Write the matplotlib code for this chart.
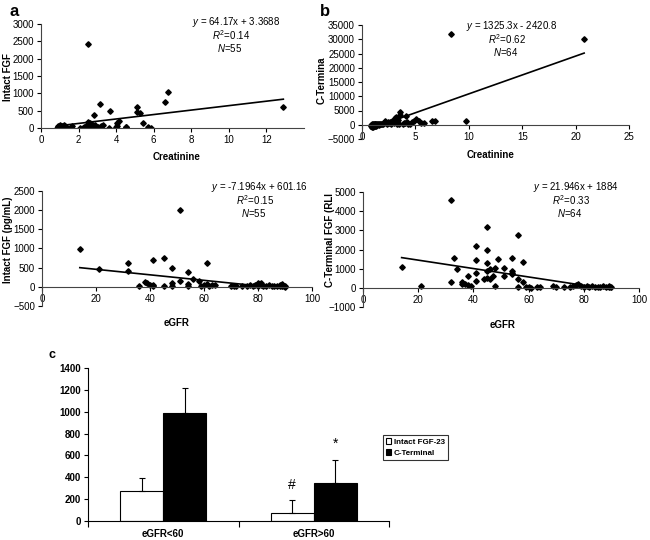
import matplotlib
matplotlib.use("Agg")
import matplotlib.pyplot as plt
import numpy as np

plt.rcParams['font.family'] = ['Liberation Sans', 'DejaVu Sans']
plt.rcParams['mathtext.fontset'] = 'custom'
plt.rcParams['mathtext.rm'] = 'Liberation Sans'
plt.rcParams['mathtext.it'] = 'Liberation Sans:italic'

# panel a: creatinine vs intact FGF
a_x = [2.5, 6.75, 6.6, 12.9, 3.15, 5.1, 5.1, 5.25, 3.65, 2.8, 2.5, 4.15, 4.05, 5.45, 2.6,
       2.75, 2.9, 3.2, 3.3, 3.6, 4.05, 4.5, 4.55, 5.7, 5.85, 1.65, 1.6, 2.1, 2.3, 2.4,
       2.25, 2.55, 3.05, 4.0, 0.85, 0.9, 0.95, 1.0, 1.0, 1.05, 1.1, 1.1, 1.15, 1.2, 1.2,
       1.25, 1.25, 1.3, 1.3, 1.35, 0.9, 1.0, 1.15, 1.05, 1.4]
a_y = [2430, 1040, 750, 600, 680, 610, 470, 420, 490, 370, 175, 190, 130, 130, 130,
       100, 80, 50, 80, 10, 50, 30, 20, 30, 10, 70, 40, 10, 30, 60,
       10, 20, 20, 20, 0, 20, 10, 40, 0, 20, 50, 10, 0, 70, 30,
       100, 10, 60, 20, 40, 50, 80, 30, 60, 10]
a_fit = (64.17, 3.3688)

# panel b: creatinine vs C-terminal FGF
b_x = [8.3, 20.8, 9.7, 3.6, 3.55, 4.1, 3.2, 3.1, 6.6, 6.8, 5.1, 5.3, 5.8, 2.2, 2.4,
       2.6, 2.9, 2.5, 2.3, 2.0, 3.5, 4.0, 4.3, 4.7, 4.9, 3.0, 2.7, 3.3, 3.9, 4.5,
       5.5, 0.8, 0.85, 0.9, 0.95, 1.0, 1.0, 1.05, 1.1, 1.1, 1.15, 1.2, 1.2, 1.25, 1.3,
       1.3, 1.35, 1.4, 1.45, 1.5, 1.6, 1.7, 1.8, 1.9, 2.1, 1.0, 0.9, 1.15, 1.25, 3.8,
       4.2, 2.8, 3.4, 1.55]
b_y = [31800, 30000, 1200, 4500, 3400, 3000, 2600, 2200, 1350, 1350, 1900, 1200, 500, 1200, 900,
       1000, 1000, 700, 400, 300, 200, 500, 300, 800, 1300, 600, 300, 100, 700, 150,
       600, -500, -200, 100, -700, -300, 200, -100, -400, 0, 100, -200, 300, -600, 0,
       200, -300, 100, -100, 300, 200, 100, 300, 200, 500, -800, -100, -500, 250, 400,
       900, 1200, 1500, -200]
b_fit = (1325.3, -2420.8)

# panel c: eGFR vs intact FGF
c_x = [14, 21, 32, 32, 41, 45, 48, 61, 54, 51, 51, 56, 58, 48, 54,
       36, 38, 39, 40, 41, 41, 45, 48, 54, 59, 60, 61, 62, 63, 64,
       70, 71, 72, 74, 76, 77, 78, 79, 80, 80, 81, 81, 82, 84, 86,
       87, 88, 88, 89, 89, 89, 90, 90, 85, 83]
c_y = [990, 470, 620, 420, 700, 760, 480, 620, 375, 2000, 150, 200, 140, 90, 80,
       20, 120, 90, 40, 60, 20, 30, 30, 20, 30, 60, 80, 20, 50, 40,
       20, 30, 10, 30, 20, 40, 10, 40, 90, 20, 100, 50, 30, 40, 10,
       20, 30, 60, 10, 80, 40, 20, 0, 10, 10]
c_fit = (-7.1964, 601.16)

# panel d: eGFR vs C-terminal FGF
d_x = [14, 21, 32, 45, 56, 41, 45, 33, 41, 49, 54, 58, 45, 51, 48,
       34, 54, 54, 54, 41, 45, 46, 51, 56, 58, 38, 45, 44, 46, 47,
       32, 36, 37, 38, 39, 41, 48, 56, 59, 60, 63, 69, 70, 73, 75,
       76, 77, 78, 79, 80, 81, 82, 83, 84, 85, 86, 87, 88, 89, 89,
       90, 36, 64, 61]
d_y = [1100, 100, 4600, 3200, 2750, 2200, 1970, 1550, 1450, 1500, 1550, 1330, 1280, 1050, 1040,
       1000, 900, 780, 700, 800, 870, 990, 640, 450, 320, 620, 520, 440, 470, 610,
       330, 300, 200, 150, 100, 350, 100, 50, 60, 60, 60, 80, 30, 20, 50,
       100, 150, 200, 120, 60, 100, 30, 80, 40, 60, 20, 100, 30, 120, 20,
       30, 200, 40, 10]
# the printed equation drops the minus sign; the drawn line falls
d_fit = (-21.946, 1884)

# panel c: bar chart means
groups = ['eGFR<60', 'eGFR>60']
intact = [270, 70]
intact_err = [120, 120]
cterm = [985, 350]
cterm_err = [230, 205]

fig = plt.figure(figsize=(6.5, 5.4), dpi=100)
W, H = 650, 540


def px_ax(x0, y0, x1, y1):
    return fig.add_axes([x0 / W, 1 - y1 / H, (x1 - x0) / W, (y1 - y0) / H])


def ftext(x, y, s, **kw):
    fig.text(x / W, 1 - y / H, s, **kw)


def scatter_panel(ax, x, y, fit, xlim, ylim, xt, yt):
    ax.plot(x, y, 'D', color='black', ms=2.8, mec='black')
    xs = np.array([min(x), max(x)])
    ax.plot(xs, fit[0] * xs + fit[1], color='black', lw=1.2)
    ax.set_xlim(xlim)
    ax.set_ylim(ylim)
    ax.set_xticks(xt)
    ax.set_yticks(yt)
    ax.spines['top'].set_visible(False)
    ax.spines['right'].set_visible(False)
    ax.spines['bottom'].set_position(('data', 0))
    ax.spines['left'].set_color('#444444')
    ax.spines['bottom'].set_color('#444444')
    ax.tick_params(labelsize=7, length=3, width=0.8, pad=2)


ax1 = px_ax(41, 24, 304, 128)
scatter_panel(ax1, a_x, a_y, a_fit, (0, 14), (0, 3000), range(0, 13, 2), range(0, 3001, 500))
ax2 = px_ax(362, 25, 629, 139)
scatter_panel(ax2, b_x, b_y, b_fit, (0, 25), (-5000, 35000), range(0, 26, 5), range(-5000, 35001, 5000))
ax3 = px_ax(42, 191, 312, 306)
scatter_panel(ax3, c_x, c_y, c_fit, (0, 100), (-500, 2500), range(0, 101, 20), range(-500, 2501, 500))
ax4 = px_ax(363, 192, 639, 307)
scatter_panel(ax4, d_x, d_y, d_fit, (0, 100), (-1000, 5000), range(0, 101, 20), range(-1000, 5001, 1000))

# equations
eqs = [((236, 22), r'$y$ = 64.17x + 3.3688', r'$R^2$=0.14', r'$N$=55'),
       ((512, 26), r'$y$ = 1325.3x - 2420.8', r'$R^2$=0.62', r'$N$=64'),
       ((260, 187), r'$y$ = -7.1964x + 601.16', r'$R^2$=0.15', r'$N$=55'),
       ((576, 187), r'$y$ = 21.946x + 1884', r'$R^2$=0.33', r'$N$=64')]
for (x, y), e, r, n in eqs:
    ftext(x, y, e, ha='center', va='center', fontsize=7)
    ftext(x - 5, y + 13, r, ha='center', va='center', fontsize=7)
    ftext(x - 6, y + 26, n, ha='center', va='center', fontsize=7)

# axis titles
ftext(8, 77, 'Intact FGF', rotation=90, ha='center', va='center', fontsize=7, fontweight='bold')
ftext(322, 80, 'C-Termina', rotation=90, ha='center', va='center', fontsize=7, fontweight='bold')
ftext(8, 240, 'Intact FGF (pg/mL)', rotation=90, ha='center', va='center', fontsize=7, fontweight='bold')
ftext(330, 240, 'C-Terminal FGF (RLI', rotation=90, ha='center', va='center', fontsize=7, fontweight='bold')
ftext(177, 157, 'Creatinine', ha='center', va='center', fontsize=7, fontweight='bold')
ftext(491, 155, 'Creatinine', ha='center', va='center', fontsize=7, fontweight='bold')
ftext(177, 323, 'eGFR', ha='center', va='center', fontsize=7, fontweight='bold')
ftext(503, 325, 'eGFR', ha='center', va='center', fontsize=7, fontweight='bold')

# panel letters
ftext(14, 12, 'a', ha='center', va='center', fontsize=12, fontweight='bold')
ftext(325, 12, 'b', ha='center', va='center', fontsize=12, fontweight='bold')
ftext(52, 355, 'c', ha='center', va='center', fontsize=9, fontweight='bold')

# bar chart
ax5 = px_ax(88, 368, 389, 521)
pos = np.arange(len(groups))
bw = 0.285
ax5.bar(pos - bw / 2, intact, bw, color='white', edgecolor='black', lw=0.8, label='Intact FGF-23',
        yerr=[[0, 0], intact_err], error_kw=dict(ecolor='black', elinewidth=0.8, capsize=2.5, capthick=0.8))
ax5.bar(pos + bw / 2, cterm, bw, color='black', edgecolor='black', lw=0.8, label='C-Terminal',
        yerr=[[0, 0], cterm_err], error_kw=dict(ecolor='black', elinewidth=0.8, capsize=2.5, capthick=0.8))
ax5.set_xlim(-0.5, 1.5)
ax5.set_ylim(0, 1400)
ax5.set_yticks(range(0, 1401, 200))
ax5.set_xticks(pos)
ax5.set_xticklabels(groups, fontweight='bold', fontsize=7)
ax5.set_xticks([-0.5, 0.5, 1.5], minor=True)
ax5.tick_params(axis='x', which='major', length=0, pad=6)
ax5.tick_params(axis='x', which='minor', length=4, width=0.8)
ax5.tick_params(axis='y', labelsize=7, length=3, width=0.8, pad=2)
for t in ax5.get_yticklabels():
    t.set_fontweight('bold')
ax5.spines['top'].set_visible(False)
ax5.spines['right'].set_visible(False)
ax5.text(pos[1] - bw / 2, 330, '#', ha='center', va='center', fontsize=10)
ax5.text(pos[1] + bw / 2, 705, '*', ha='center', va='center', fontsize=10)
leg = ax5.legend(loc='upper left', bbox_to_anchor=(0.98, 0.56), fontsize=5.8, frameon=True,
                 fancybox=False, edgecolor='black', handlelength=0.7, handleheight=0.7,
                 handletextpad=0.3, borderpad=0.35, labelspacing=0.45, borderaxespad=0)
leg.get_frame().set_linewidth(0.8)
for t in leg.get_texts():
    t.set_fontweight('bold')

fig.savefig('out.png', dpi=100)
